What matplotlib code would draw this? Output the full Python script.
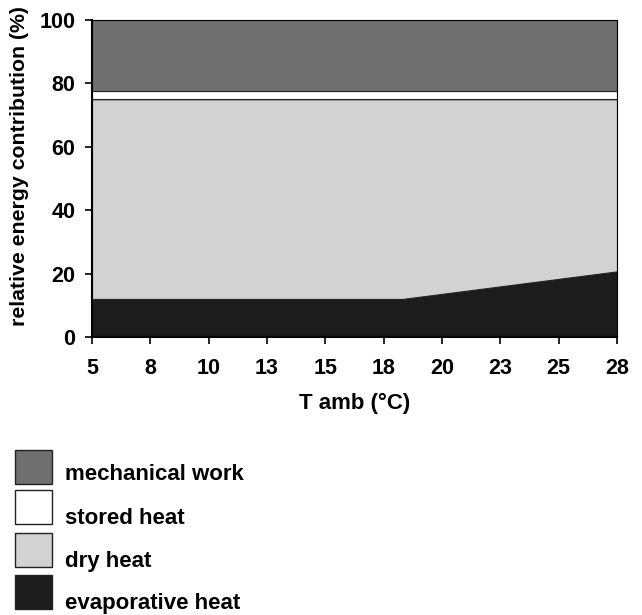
import matplotlib.pyplot as plt
from matplotlib.patches import Rectangle

plt.rcParams['font.family'] = ['Liberation Sans', 'DejaVu Sans']
plt.rcParams['font.weight'] = 'bold'

# ambient temperature (°C) at the break points of the chart
t_amb = [5.0, 18.3, 27.5]
evaporative = [12.0, 12.0, 20.7]
dry = [63.0, 63.0, 54.3]
stored = [2.5, 2.5, 2.5]
mechanical = [22.5, 22.5, 22.5]

tick_pos = [5, 7.5, 10, 12.5, 15, 17.5, 20, 22.5, 25, 27.5]
tick_lab = ['5', '8', '10', '13', '15', '18', '20', '23', '25', '28']

labels = ['evaporative heat', 'dry heat', 'stored heat', 'mechanical work']
colors = ['#1c1c1c', '#d2d2d2', '#ffffff', '#6f6f6f']

fig = plt.figure(figsize=(6.42, 6.15), dpi=100)
ax = fig.add_axes([92/642, 1 - 337/615, (617 - 92)/642, (337 - 20)/615])

polys = ax.stackplot(t_amb, evaporative, dry, stored, mechanical,
                     colors=colors, edgecolor='#222222', linewidth=0.8)

ax.set_xlim(5, 27.5)
ax.set_ylim(0, 100)
ax.set_xticks(tick_pos)
ax.set_xticklabels(tick_lab)
ax.set_yticks([0, 20, 40, 60, 80, 100])
ax.tick_params(axis='both', labelsize=15.5, direction='out', length=5, width=1.2)
ax.tick_params(axis='x', pad=10)
ax.tick_params(axis='y', pad=7)
for lab in ax.get_xticklabels() + ax.get_yticklabels():
    lab.set_fontweight('bold')
for s in ['left', 'bottom']:
    ax.spines[s].set_linewidth(1.5)
for s in ['top', 'right']:
    ax.spines[s].set_linewidth(0.8)

ax.set_xlabel('T amb (°C)', fontsize=16, fontweight='bold', labelpad=10)
ax.set_ylabel('relative energy contribution (%)', fontsize=15.3, fontweight='bold')
ax.yaxis.set_label_coords(-0.12, 0.54)

# legend drawn by hand, top entry first
box_y = [450, 490, 533, 575]
text_y = [475, 518, 562, 603]
for i, k in enumerate([3, 2, 1, 0]):
    fig.add_artist(Rectangle((15/642, 1 - (box_y[i] + 34)/615), 37/642, 34/615,
                             transform=fig.transFigure, facecolor=colors[k],
                             edgecolor='#222222', linewidth=1.0))
    fig.text(65/642, 1 - text_y[i]/615, labels[k], fontsize=16, fontweight='bold',
             va='center', ha='left')

fig.savefig('out.png', dpi=100)
